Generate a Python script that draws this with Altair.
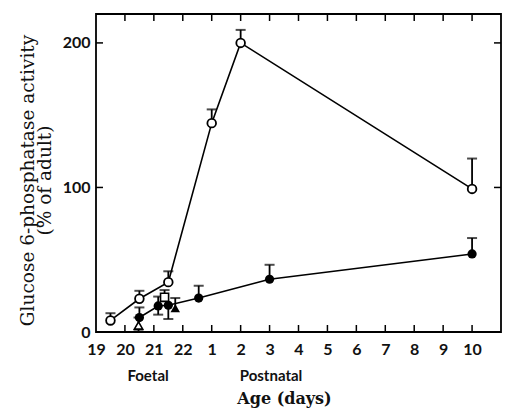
import altair as alt
import pandas as pd

# x axis: continuous day index. Foetal days 19,20,21,22 -> 0..3 ; postnatal day d -> d+3
tick_idx = list(range(0, 14))
tick_labels = ["19", "20", "21", "22", "1", "2", "3", "4", "5", "6", "7", "8", "9", "10"]
y_ticks = [0, 100, 200]

# open circles series
open_x = [0.5, 1.5, 2.5, 4.0, 5.0, 13.0]
open_y = [8, 23, 34.5, 144.5, 200, 99]
open_hi = [13, 28.5, 42, 154, 209, 120]

# filled circles series
filled_x = [1.5, 2.15, 2.5, 3.55, 6.0, 13.0]
filled_y = [10, 18, 18.5, 23.5, 36.5, 54]
filled_hi = [17, 24.5, 18.5, 32, 46.5, 65]
filled_lo = [10, 12, 9, 23.5, 36.5, 54]

# isolated points
otri_x, otri_y, otri_lo, otri_hi = [1.47], [4.5], [0.5], [10]
ftri_x, ftri_y, ftri_lo, ftri_hi = [2.74], [16.5], [16.5], [23.5]
osq_x, osq_y, osq_lo, osq_hi = [2.37], [24], [24], [29]

groups = ["Foetal", "Postnatal"]
group_x = [1.8, 6.05]

W, H = 405, 318

def df(xs, ys, lo, hi):
    return pd.DataFrame({"x": xs, "y": ys, "lo": lo, "hi": hi})

d_open = df(open_x, open_y, open_y, open_hi)
d_fill = df(filled_x, filled_y, filled_lo, filled_hi)
d_otri = df(otri_x, otri_y, otri_lo, otri_hi)
d_ftri = df(ftri_x, ftri_y, ftri_lo, ftri_hi)
d_osq = df(osq_x, osq_y, osq_lo, osq_hi)
all_err = pd.concat([d_open, d_fill, d_otri, d_ftri, d_osq], ignore_index=True)

caps = []
for _, r in all_err.iterrows():
    if r["hi"] > r["y"]:
        caps.append({"x": r["x"], "y": r["hi"]})
    if r["lo"] < r["y"]:
        caps.append({"x": r["x"], "y": r["lo"]})
d_caps = pd.DataFrame(caps)
bars = all_err[(all_err["hi"] > all_err["y"]) | (all_err["lo"] < all_err["y"])]

label_expr = "[" + ",".join("'%s'" % s for s in tick_labels) + "][datum.value]"

xscale = alt.Scale(domain=[0, 14], nice=False, zero=False)
yscale = alt.Scale(domain=[0, 220], nice=False)

xaxis = alt.Axis(values=tick_idx, labelExpr=label_expr, ticks=False, domain=False, grid=False,
                 labelFont="Lato", labelFontSize=16, labelFontWeight="bold", labelColor="#111",
                 labelPadding=9, labelFlush=False, title="Age (days)",
                 titleFont="DejaVu Serif", titleFontSize=16, titleFontWeight="bold", titleColor="#111",
                 titleX=188, titleY=66, titleBaseline="middle", titleAlign="center")
yaxis = alt.Axis(values=y_ticks, ticks=False, domain=False, grid=False,
                 labelFont="Lato", labelFontSize=16, labelFontWeight="bold", labelColor="#111",
                 labelPadding=6, title=["Glucose 6-phosphatase activity", "(% of adult)"],
                 titleFont="DejaVu Serif", titleFontSize=18.5, titleFontWeight="normal", titleColor="#111",
                 titleX=-63, titleY=166, titleAngle=-90, titleBaseline="alphabetic", titleAlign="center",
                 titleLineHeight=17)

X = alt.X("x:Q", scale=xscale, axis=xaxis)
Y = alt.Y("y:Q", scale=yscale, axis=yaxis)

# inward ticks on all four sides
d_xt = pd.DataFrame({"x": tick_idx[1:]})
d_yt = pd.DataFrame({"y": y_ticks[1:]})
tick_len = 7
bottom_ticks = alt.Chart(d_xt).mark_rule(color="black", strokeWidth=1.5).encode(
    x=X, y=alt.value(H), y2=alt.value(H - tick_len))
top_ticks = alt.Chart(d_xt).mark_rule(color="black", strokeWidth=1.5).encode(
    x=X, y=alt.value(0), y2=alt.value(tick_len))
left_ticks = alt.Chart(d_yt).mark_rule(color="black", strokeWidth=1.5).encode(
    y=Y, x=alt.value(0), x2=alt.value(tick_len))
right_ticks = alt.Chart(d_yt).mark_rule(color="black", strokeWidth=1.5).encode(
    y=Y, x=alt.value(W), x2=alt.value(W - tick_len))

line_open = alt.Chart(d_open).mark_line(color="black", strokeWidth=1.6).encode(x=X, y=Y, order="x:Q")
line_fill = alt.Chart(d_fill).mark_line(color="black", strokeWidth=1.6).encode(x=X, y=Y, order="x:Q")

err_rules = alt.Chart(bars).mark_rule(color="black", strokeWidth=1.8).encode(
    x=X, y=alt.Y("lo:Q", scale=yscale, axis=yaxis), y2="hi:Q")
err_caps = alt.Chart(d_caps).mark_tick(color="black", orient="horizontal", size=10, thickness=2).encode(x=X, y=Y)

pt_fill = alt.Chart(d_fill).mark_point(shape="circle", filled=True, color="black", size=85, opacity=1).encode(x=X, y=Y)
pt_open = alt.Chart(d_open).mark_point(shape="circle", fill="white", stroke="black", strokeWidth=1.8,
                                       size=75, opacity=1, fillOpacity=1).encode(x=X, y=Y)
pt_otri = alt.Chart(d_otri).mark_point(shape="triangle-up", fill="white", stroke="black", strokeWidth=1.6,
                                       size=70, opacity=1, fillOpacity=1).encode(x=X, y=Y)
pt_ftri = alt.Chart(d_ftri).mark_point(shape="triangle-up", filled=True, color="black", size=90, opacity=1).encode(x=X, y=Y)
pt_osq = alt.Chart(d_osq).mark_point(shape="square", fill="white", stroke="black", strokeWidth=1.6,
                                     size=65, opacity=1, fillOpacity=1).encode(x=X, y=Y)

d_groups = pd.DataFrame({"x": group_x, "label": groups})
group_text = alt.Chart(d_groups).mark_text(font="Lato", fontSize=15, fontWeight="bold", color="#111",
                                           baseline="middle", align="center").encode(
    x=X, y=alt.value(H + 44), text="label:N")

chart = alt.layer(
    bottom_ticks, top_ticks, left_ticks, right_ticks,
    line_open, line_fill, err_rules, err_caps,
    pt_fill, pt_ftri, pt_open, pt_otri, pt_osq, group_text
).properties(
    width=W, height=H, autosize="none",
    padding={"left": 88, "top": 6, "right": 1, "bottom": 76},
    background="white"
).configure_view(stroke="black", strokeWidth=1.8)

chart.save("out.html", embed_options={"renderer": "svg", "actions": False})
